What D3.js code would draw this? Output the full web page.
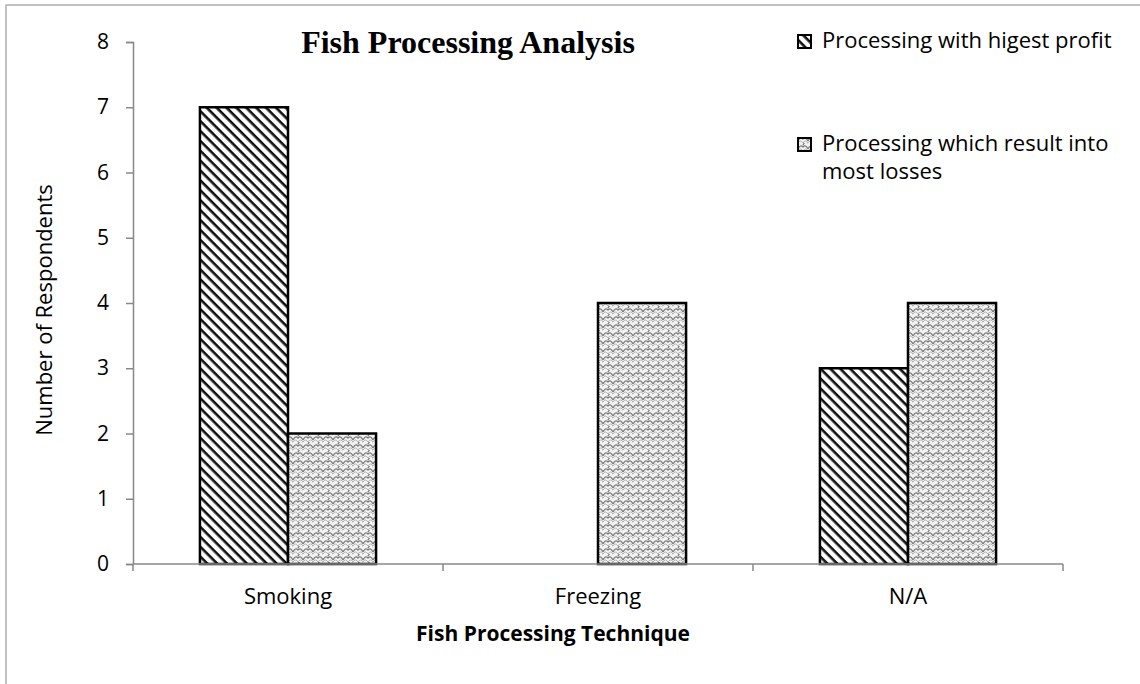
<!DOCTYPE html>
<html>
<head>
<meta charset="utf-8">
<script src="https://cdn.jsdelivr.net/npm/d3@7"></script>
<style>
  body { margin: 0; background: #fff; }
  svg { display: block; }
</style>
</head>
<body>
<svg id="chart" width="1140" height="684"></svg>
<script>
// data
const categories = ["Smoking", "Freezing", "N/A"];
const seriesNames = ["Processing with higest profit", "Processing which result into most losses"];
const highestProfit = [7, 0, 3];
const mostLosses = [2, 4, 4];
const yTicks = [0, 1, 2, 3, 4, 5, 6, 7, 8];

const svg = d3.select("#chart");
const margin = { top: 42, left: 133, right: 77, bottom: 120 };
const width = 1140 - margin.left - margin.right;
const height = 684 - margin.top - margin.bottom;
const font = "'Open Sans', sans-serif";

// outer frame (runs off the right / bottom)
svg.append("rect")
    .attr("x", 6).attr("y", 5)
    .attr("width", 1200).attr("height", 800)
    .attr("fill", "none")
    .attr("stroke", "#999")
    .attr("stroke-width", 1.2);

const defs = svg.append("defs");

// diagonal hatch, lines running top-left to bottom-right
const hatch = defs.append("pattern")
    .attr("id", "hatch")
    .attr("patternUnits", "userSpaceOnUse")
    .attr("width", 7).attr("height", 7)
    .attr("patternTransform", "rotate(45)");
hatch.append("rect").attr("width", 7).attr("height", 7).attr("fill", "#fff");
hatch.append("rect").attr("x", 0).attr("y", 0).attr("width", 7).attr("height", 2.6).attr("fill", "#111");

// scale-like texture
const dots = defs.append("pattern")
    .attr("id", "dots")
    .attr("patternUnits", "userSpaceOnUse")
    .attr("width", 10).attr("height", 8);
dots.append("rect").attr("width", 10).attr("height", 8).attr("fill", "#f2f2f2");
dots.append("path")
    .attr("d", "M0,6 Q2.5,1 5,4 Q7.5,1 10,6 M-5,2 Q-2.5,-3 0,0 M5,2 Q7.5,-3 10,0")
    .attr("fill", "none")
    .attr("stroke", "#7a7a7a")
    .attr("stroke-width", 1.2);
dots.append("path")
    .attr("d", "M0,8 Q2.5,4 5,8 Q7.5,4 10,8")
    .attr("fill", "none")
    .attr("stroke", "#a8a8a8")
    .attr("stroke-width", 0.9);

const fills = ["url(#hatch)", "url(#dots)"];

const g = svg.append("g")
    .attr("transform", `translate(${margin.left},${margin.top})`);

const x0 = d3.scaleBand()
    .domain(categories)
    .range([0, width])
    .padding(0);

const x1 = d3.scaleBand()
    .domain([0, 1])
    .range([0, x0.bandwidth()])
    .paddingInner(0)
    .paddingOuter(0.76);

const y = d3.scaleLinear()
    .domain([0, 8])
    .range([height, 0]);

// bars
const rows = categories.map((c, i) => ({ cat: c, vals: [highestProfit[i], mostLosses[i]] }));

const catG = g.selectAll("g.cat")
    .data(rows)
    .join("g")
    .attr("class", "cat")
    .attr("transform", d => `translate(${x0(d.cat)},0)`);

catG.selectAll("rect")
    .data(d => d.vals.map((v, k) => ({ k, v })).filter(e => e.v > 0))
    .join("rect")
    .attr("x", d => x1(d.k))
    .attr("y", d => y(d.v))
    .attr("width", x1.bandwidth())
    .attr("height", d => y(0) - y(d.v))
    .attr("fill", d => fills[d.k])
    .attr("stroke", "#000")
    .attr("stroke-width", 2.5);

// y axis
const yAxis = g.append("g")
    .call(d3.axisLeft(y).tickValues(yTicks).tickSize(7).tickPadding(17).tickFormat(d3.format("d")));
yAxis.select(".domain").attr("stroke", "#888").attr("stroke-width", 1.5);
yAxis.selectAll(".tick line").attr("stroke", "#888").attr("stroke-width", 1.5);
yAxis.selectAll("text")
    .attr("font-family", font)
    .attr("font-size", 21)
    .attr("fill", "#000");

// x axis: ticks on category boundaries
const xAxisG = g.append("g").attr("transform", `translate(0,${height})`);
xAxisG.append("line")
    .attr("x1", 0).attr("x2", width)
    .attr("stroke", "#888").attr("stroke-width", 1.5);
const boundaries = categories.map(c => x0(c)).concat([x0.range()[1]]);
xAxisG.selectAll("line.tk")
    .data(boundaries)
    .join("line")
    .attr("class", "tk")
    .attr("x1", d => d).attr("x2", d => d)
    .attr("y1", 0).attr("y2", 7)
    .attr("stroke", "#888").attr("stroke-width", 1.5);
xAxisG.selectAll("text")
    .data(categories)
    .join("text")
    .attr("x", d => x0(d) + x0.bandwidth() / 2)
    .attr("y", 40)
    .attr("text-anchor", "middle")
    .attr("font-family", font)
    .attr("font-size", 22)
    .text(d => d);

// axis titles
svg.append("text")
    .attr("x", 553)
    .attr("y", margin.top + height + 77)
    .attr("text-anchor", "middle")
    .attr("font-family", font)
    .attr("font-weight", "bold")
    .attr("font-size", 21)
    .text("Fish Processing Technique");

svg.append("text")
    .attr("transform", `translate(52,310) rotate(-90)`)
    .attr("text-anchor", "middle")
    .attr("font-family", font)
    .attr("font-size", 22)
    .text("Number of Respondents");

// title
svg.append("text")
    .attr("x", 468)
    .attr("y", 53)
    .attr("text-anchor", "middle")
    .attr("font-family", "'Liberation Serif', 'Times New Roman', serif")
    .attr("font-weight", "bold")
    .attr("font-size", 32)
    .text("Fish Processing Analysis");

// legend
const legendY = [48, 151];
const legend = svg.append("g");
const items = legend.selectAll("g")
    .data(seriesNames)
    .join("g")
    .attr("transform", (d, i) => `translate(798,${legendY[i]})`);
items.append("rect")
    .attr("x", 0).attr("y", -13)
    .attr("width", 13).attr("height", 13)
    .attr("fill", (d, i) => fills[i])
    .attr("stroke", "#000")
    .attr("stroke-width", 2);
items.append("text")
    .attr("x", 24)
    .attr("y", 0)
    .attr("font-family", font)
    .attr("font-size", 22)
    .each(function (d, i) {
        const t = d3.select(this);
        if (i === 1) {
            t.append("tspan").attr("x", 24).attr("dy", 0).text("Processing which result into");
            t.append("tspan").attr("x", 24).attr("dy", 28).text("most losses");
        } else {
            t.text(d);
        }
    });
</script>
</body>
</html>
